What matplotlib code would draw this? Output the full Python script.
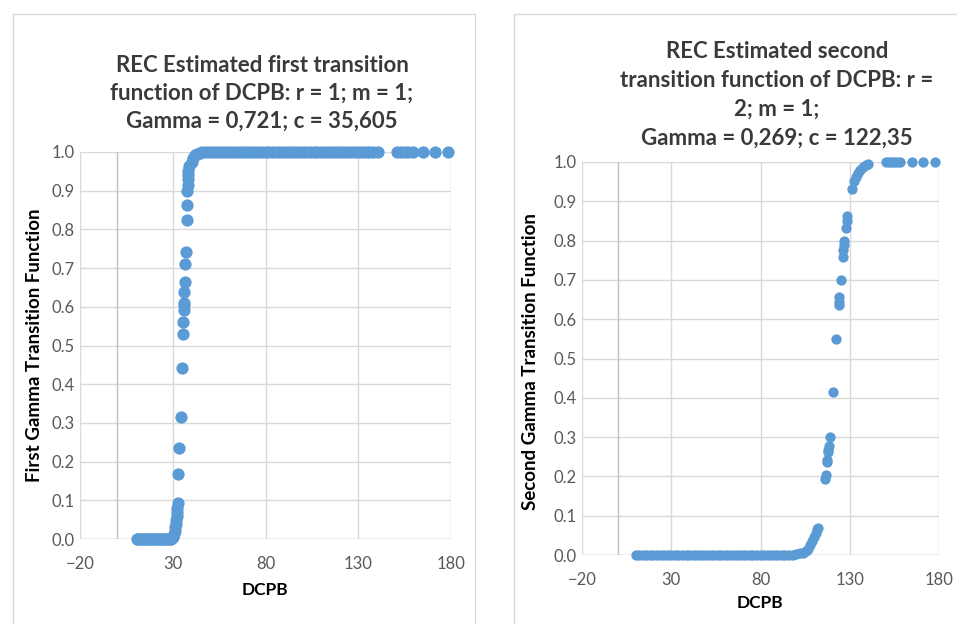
import numpy as np
import matplotlib.pyplot as plt
from matplotlib.patches import Rectangle

plt.rcParams['font.family'] = ['Lato', 'DejaVu Sans']

# ---- left panel: first transition function
x1_low = [10.5, 11.5, 12.5, 13.5, 14.5, 15.5, 16.5, 17.5, 18.5, 19.5, 20.5, 21.5,
          22.5, 23.5, 24.5, 25.5, 26.5, 27.5, 28.5, 29.3]
x1_rise = [29.8, 30.2, 30.6, 31.0, 31.3, 31.6, 31.9, 32.1, 32.3, 32.5, 32.7,
           33.0, 33.5, 34.3, 35.0, 35.5, 35.7, 35.9, 36.0, 36.1, 36.2, 36.6, 36.8,
           37.1, 37.5, 37.8, 37.9, 38.0, 38.1, 38.2, 38.3, 39.0, 40.2, 41.0, 42.0,
           43.0, 44.5]
y1_rise = [0.003, 0.006, 0.012, 0.02, 0.03, 0.04, 0.05, 0.06, 0.07, 0.08, 0.093,
           0.167, 0.234, 0.316, 0.441, 0.529, 0.562, 0.592, 0.605, 0.611, 0.639, 0.665, 0.711,
           0.742, 0.824, 0.863, 0.90, 0.915, 0.93, 0.94, 0.95, 0.965, 0.975, 0.985, 0.992,
           0.996, 0.998]
x1_high = [46, 48, 50, 52, 54, 56, 58, 60, 62, 64, 66, 68, 70, 72, 74, 76, 78, 80,
           82, 84, 86, 88, 90, 92, 94, 96, 98, 100, 102, 104, 106, 108, 110, 112,
           114, 116, 118, 120, 122, 124, 126, 128, 130, 132, 134, 136, 138, 140.5,
           151, 153, 155, 157, 159.5, 165, 171.5, 178.5]

x1 = x1_low + x1_rise + x1_high
y1 = [0.0] * len(x1_low) + y1_rise + [1.0] * len(x1_high)

# ---- right panel: second transition function
x2_low = [10.3, 12, 14, 16, 18, 20, 22, 24, 26, 28, 30, 32, 34, 36, 38, 40, 42, 44,
          46, 48, 50, 52, 54, 56, 58, 60, 62, 64, 66, 68, 70, 72, 74, 76, 78, 80,
          82, 84, 86, 88, 90, 92, 94, 96]
x2_rise = [98, 100, 102, 104, 105.5, 106.5, 108, 109, 110, 111, 111.8, 112.3,
           116.3, 116.5, 117.2, 117.4, 117.8, 118.0, 118.2, 118.8, 120.6, 122.5,
           123.8, 123.9, 124.0, 125.1, 126.0, 126.3, 126.6, 126.9, 127.9, 128.3, 128.6,
           131.5, 132.6, 133.3, 134.5, 135.7, 137.5, 139.2, 140.0]
y2_rise = [0.001, 0.002, 0.004, 0.006, 0.01, 0.015, 0.025, 0.035, 0.045, 0.055, 0.065, 0.068,
           0.193, 0.203, 0.237, 0.242, 0.262, 0.268, 0.278, 0.301, 0.416, 0.549,
           0.635, 0.645, 0.657, 0.70, 0.758, 0.776, 0.79, 0.80, 0.831, 0.85, 0.862,
           0.932, 0.952, 0.962, 0.972, 0.98, 0.988, 0.993, 0.995]
x2_high = [150.5, 152, 153.5, 155, 156.5, 158, 164.7, 171.2, 178]

x2 = x2_low + x2_rise + x2_high
y2 = [0.0] * len(x2_low) + y2_rise + [1.0] * len(x2_high)

xticks = [-20, 30, 80, 130, 180]
yticks = [0.0, 0.1, 0.2, 0.3, 0.4, 0.5, 0.6, 0.7, 0.8, 0.9, 1.0]

blue = '#5B9BD5'
grid = '#d9d9d9'
axis_col = '#bfbfbf'
txt = '#595959'

fig = plt.figure(figsize=(9.57, 6.24), dpi=100)

# chart frames
fig.patches.append(Rectangle((13 / 957, -0.05), (475 - 13) / 957, (610 / 624) + 0.05,
                             transform=fig.transFigure, fill=False, edgecolor=grid, lw=1))
fig.patches.append(Rectangle((514 / 957, -0.05), 0.5, (610 / 624) + 0.05,
                             transform=fig.transFigure, fill=False, edgecolor=grid, lw=1))


def panel(rect, x, y, msize):
    ax = fig.add_axes(rect)
    ax.set_xlim(-20, 180)
    ax.set_ylim(0, 1)
    for s in ax.spines.values():
        s.set_visible(False)
    ax.set_xticks(xticks)
    ax.set_yticks(yticks)
    ax.set_yticklabels(['%.1f' % v for v in yticks])
    ax.grid(True, color=grid, lw=1)
    ax.set_axisbelow(True)
    ax.axvline(0, color=axis_col, lw=1, zorder=1)
    ax.axhline(0, color=axis_col, lw=1, zorder=1)
    ax.tick_params(length=0, labelsize=12, colors=txt)
    ax.tick_params(axis='x', pad=12)
    ax.tick_params(axis='y', pad=4)
    ax.scatter(x, y, s=msize, color=blue, zorder=3, clip_on=False, linewidths=0)
    return ax


ax1 = panel([80 / 957, 85 / 624, 371 / 957, 387 / 624], x1, y1, 78)
ax2 = panel([582 / 957, 69 / 624, 357 / 957, 393 / 624], x2, y2, 55)

fig.text(262 / 957, 1 - 55 / 624,
         'REC Estimated first transition\nfunction of DCPB: r = 1; m = 1;\nGamma = 0,721; c = 35,605',
         ha='center', va='top', fontsize=16, fontweight='bold', color='#3a3a3a',
         linespacing=1.4)
fig.text(777 / 957, 1 - 41 / 624,
         'REC Estimated second\ntransition function of DCPB: r =\n2; m = 1;\nGamma = 0,269; c = 122,35',
         ha='center', va='top', fontsize=16, fontweight='bold', color='#3a3a3a',
         linespacing=1.47)

fig.text(265 / 957, 1 - 590 / 624, 'DCPB', ha='center', va='center',
         fontsize=12.5, fontweight='bold', color='black')
fig.text(760 / 957, 1 - 603 / 624, 'DCPB', ha='center', va='center',
         fontsize=12.5, fontweight='bold', color='black')
fig.text(35 / 957, 1 - 345 / 624, 'First Gamma Transition Function', rotation=90,
         ha='center', va='center', fontsize=13.5, fontweight='bold', color='black')
fig.text(530 / 957, 1 - 362 / 624, 'Second Gamma Transition Function', rotation=90,
         ha='center', va='center', fontsize=13.5, fontweight='bold', color='black')

plt.savefig('out.png', dpi=100)
